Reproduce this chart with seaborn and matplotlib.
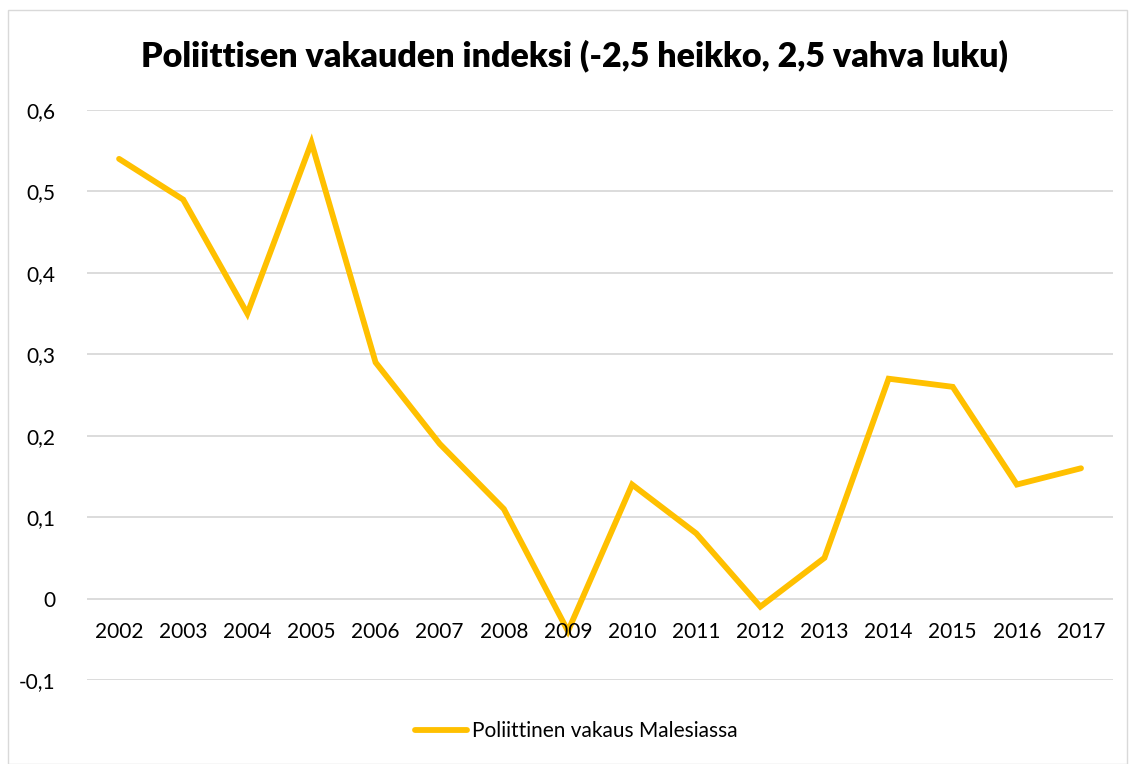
import seaborn as sns
import matplotlib.pyplot as plt
import pandas as pd
from matplotlib.patches import Rectangle

# data
years = ["2002", "2003", "2004", "2005", "2006", "2007", "2008", "2009",
         "2010", "2011", "2012", "2013", "2014", "2015", "2016", "2017"]
stability = [0.54, 0.49, 0.35, 0.56, 0.29, 0.19, 0.11, -0.04,
             0.14, 0.08, -0.01, 0.05, 0.27, 0.26, 0.14, 0.16]
y_ticks = [-0.1, 0.0, 0.1, 0.2, 0.3, 0.4, 0.5, 0.6]
series_name = "Poliittinen vakaus Malesiassa"
title = "Poliittisen vakauden indeksi (-2,5 heikko, 2,5 vahva luku)"

df = pd.DataFrame({"Vuosi": years, "Arvo": stability})

sns.set_style("white")
plt.rcParams["font.family"] = ["Lato", "DejaVu Sans"]
plt.rcParams["text.color"] = "#000000"

fig = plt.figure(figsize=(11.3, 7.64), dpi=100)
ax = fig.add_axes([0.077, 0.110, 0.908, 0.746])

sns.lineplot(data=df, x="Vuosi", y="Arvo", ax=ax, color="#FFC000",
             linewidth=4.2, label=series_name, sort=False)
ax.lines[0].set_solid_joinstyle("miter")

ax.set_xlim(-0.5, len(years) - 0.5)
ax.set_ylim(-0.1, 0.6)
ax.set_yticks(y_ticks)
ax.set_yticklabels(["0" if abs(v) < 1e-9 else f"{v:.1f}".replace(".", ",")
                    for v in y_ticks], fontsize=15, color="#000000")
ax.tick_params(axis="y", length=0, pad=23)
ax.set_xticks([])
ax.set_xlabel("")
ax.set_ylabel("")
for yt in y_ticks:
    ax.axhline(yt, color="#D9D9D9", linewidth=1.3, zorder=0)
for s in ax.spines.values():
    s.set_visible(False)

# year labels sit just under the zero line (Excel style)
for i, yr in enumerate(years):
    ax.annotate(yr, (i, 0), xytext=(0, -17), textcoords="offset points",
                ha="center", va="top", fontsize=15, color="#000000")

ax.legend_.remove()
fig.legend(loc="center", bbox_to_anchor=(0.51, 0.043), frameon=False,
           fontsize=15, handlelength=2.5, handletextpad=0.2)

fig.suptitle(title, x=0.508, y=0.948, fontsize=24.5, fontweight="heavy",
             color="#000000")

fig.patches.append(Rectangle((0.007, 0.0), 0.99, 0.987, transform=fig.transFigure,
                             fill=False, edgecolor="#D9D9D9", linewidth=1.0))

fig.savefig("out.png", dpi=100)
